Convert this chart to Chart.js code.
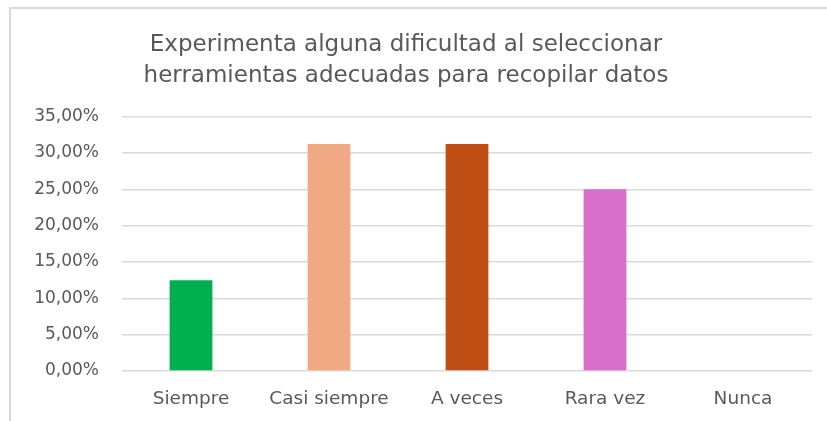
<!DOCTYPE html>
<html>
<head>
<meta charset="utf-8">
<script src="https://cdn.jsdelivr.net/npm/chart.js"></script>
<style>
  body { margin: 0; background: #fff; overflow: hidden; }
  #wrap { position: relative; width: 827px; height: 421px; overflow: hidden; }
  #frame { position: absolute; left: 9px; top: 7px; right: -20px; bottom: -20px; border-top: 2px solid #d9d9d9; border-left: 2px solid #d9d9d9; }
  canvas { position: absolute; left: 0; top: 0; }
</style>
</head>
<body>
<div id="wrap">
  <div id="frame"></div>
  <canvas id="myChart" width="827" height="421"></canvas>
</div>
<script>
var categorias = ["Siempre", "Casi siempre", "A veces", "Rara vez", "Nunca"];
var porcentajes = [12.5, 31.25, 31.25, 25, 0];
var colores = ["#00b050", "#f1a983", "#c04f15", "#d86ecc", "#4ea72e"];
var titulo = ["Experimenta alguna dificultad al seleccionar", "herramientas adecuadas para recopilar datos"];

var gris = "#595959";
var fuente = "DejaVu Sans";

var ctx = document.getElementById("myChart");

var myChart = new Chart(ctx, {
	type: "bar",
	data: {
		labels: categorias,
		datasets: [
			{
				label: "Porcentaje",
				data: porcentajes,
				backgroundColor: colores,
				borderWidth: 0,
				categoryPercentage: 1,
				barPercentage: 0.31
			}
		]
	},
	options: {
		responsive: false,
		animation: false,
		layout: {
			padding: { left: 0, right: 15, top: 30, bottom: 12 }
		},
		plugins: {
			legend: { display: false },
			tooltip: { enabled: false },
			title: {
				display: true,
				text: titulo,
				color: gris,
				font: { family: fuente, size: 23, weight: "normal", lineHeight: 1.34 },
				padding: { top: 0, bottom: 25 }
			}
		},
		scales: {
			x: {
				grid: { display: false, drawTicks: false },
				border: { display: false },
				afterFit: function(scale) { scale.height = 38; },
				ticks: {
					color: gris,
					font: { family: fuente, size: 18.5 },
					padding: 17
				}
			},
			y: {
				min: 0,
				max: 35,
				border: { display: false },
				grid: { color: "#d9d9d9", lineWidth: 1.5, drawTicks: false },
				afterFit: function(scale) { scale.width = 122; },
				ticks: {
					stepSize: 5,
					color: gris,
					padding: 23,
					font: { family: fuente, size: 17 },
					callback: function(v) { return v.toFixed(2).replace(".", ",") + "%"; }
				}
			}
		}
	}
});
</script>
</body>
</html>
